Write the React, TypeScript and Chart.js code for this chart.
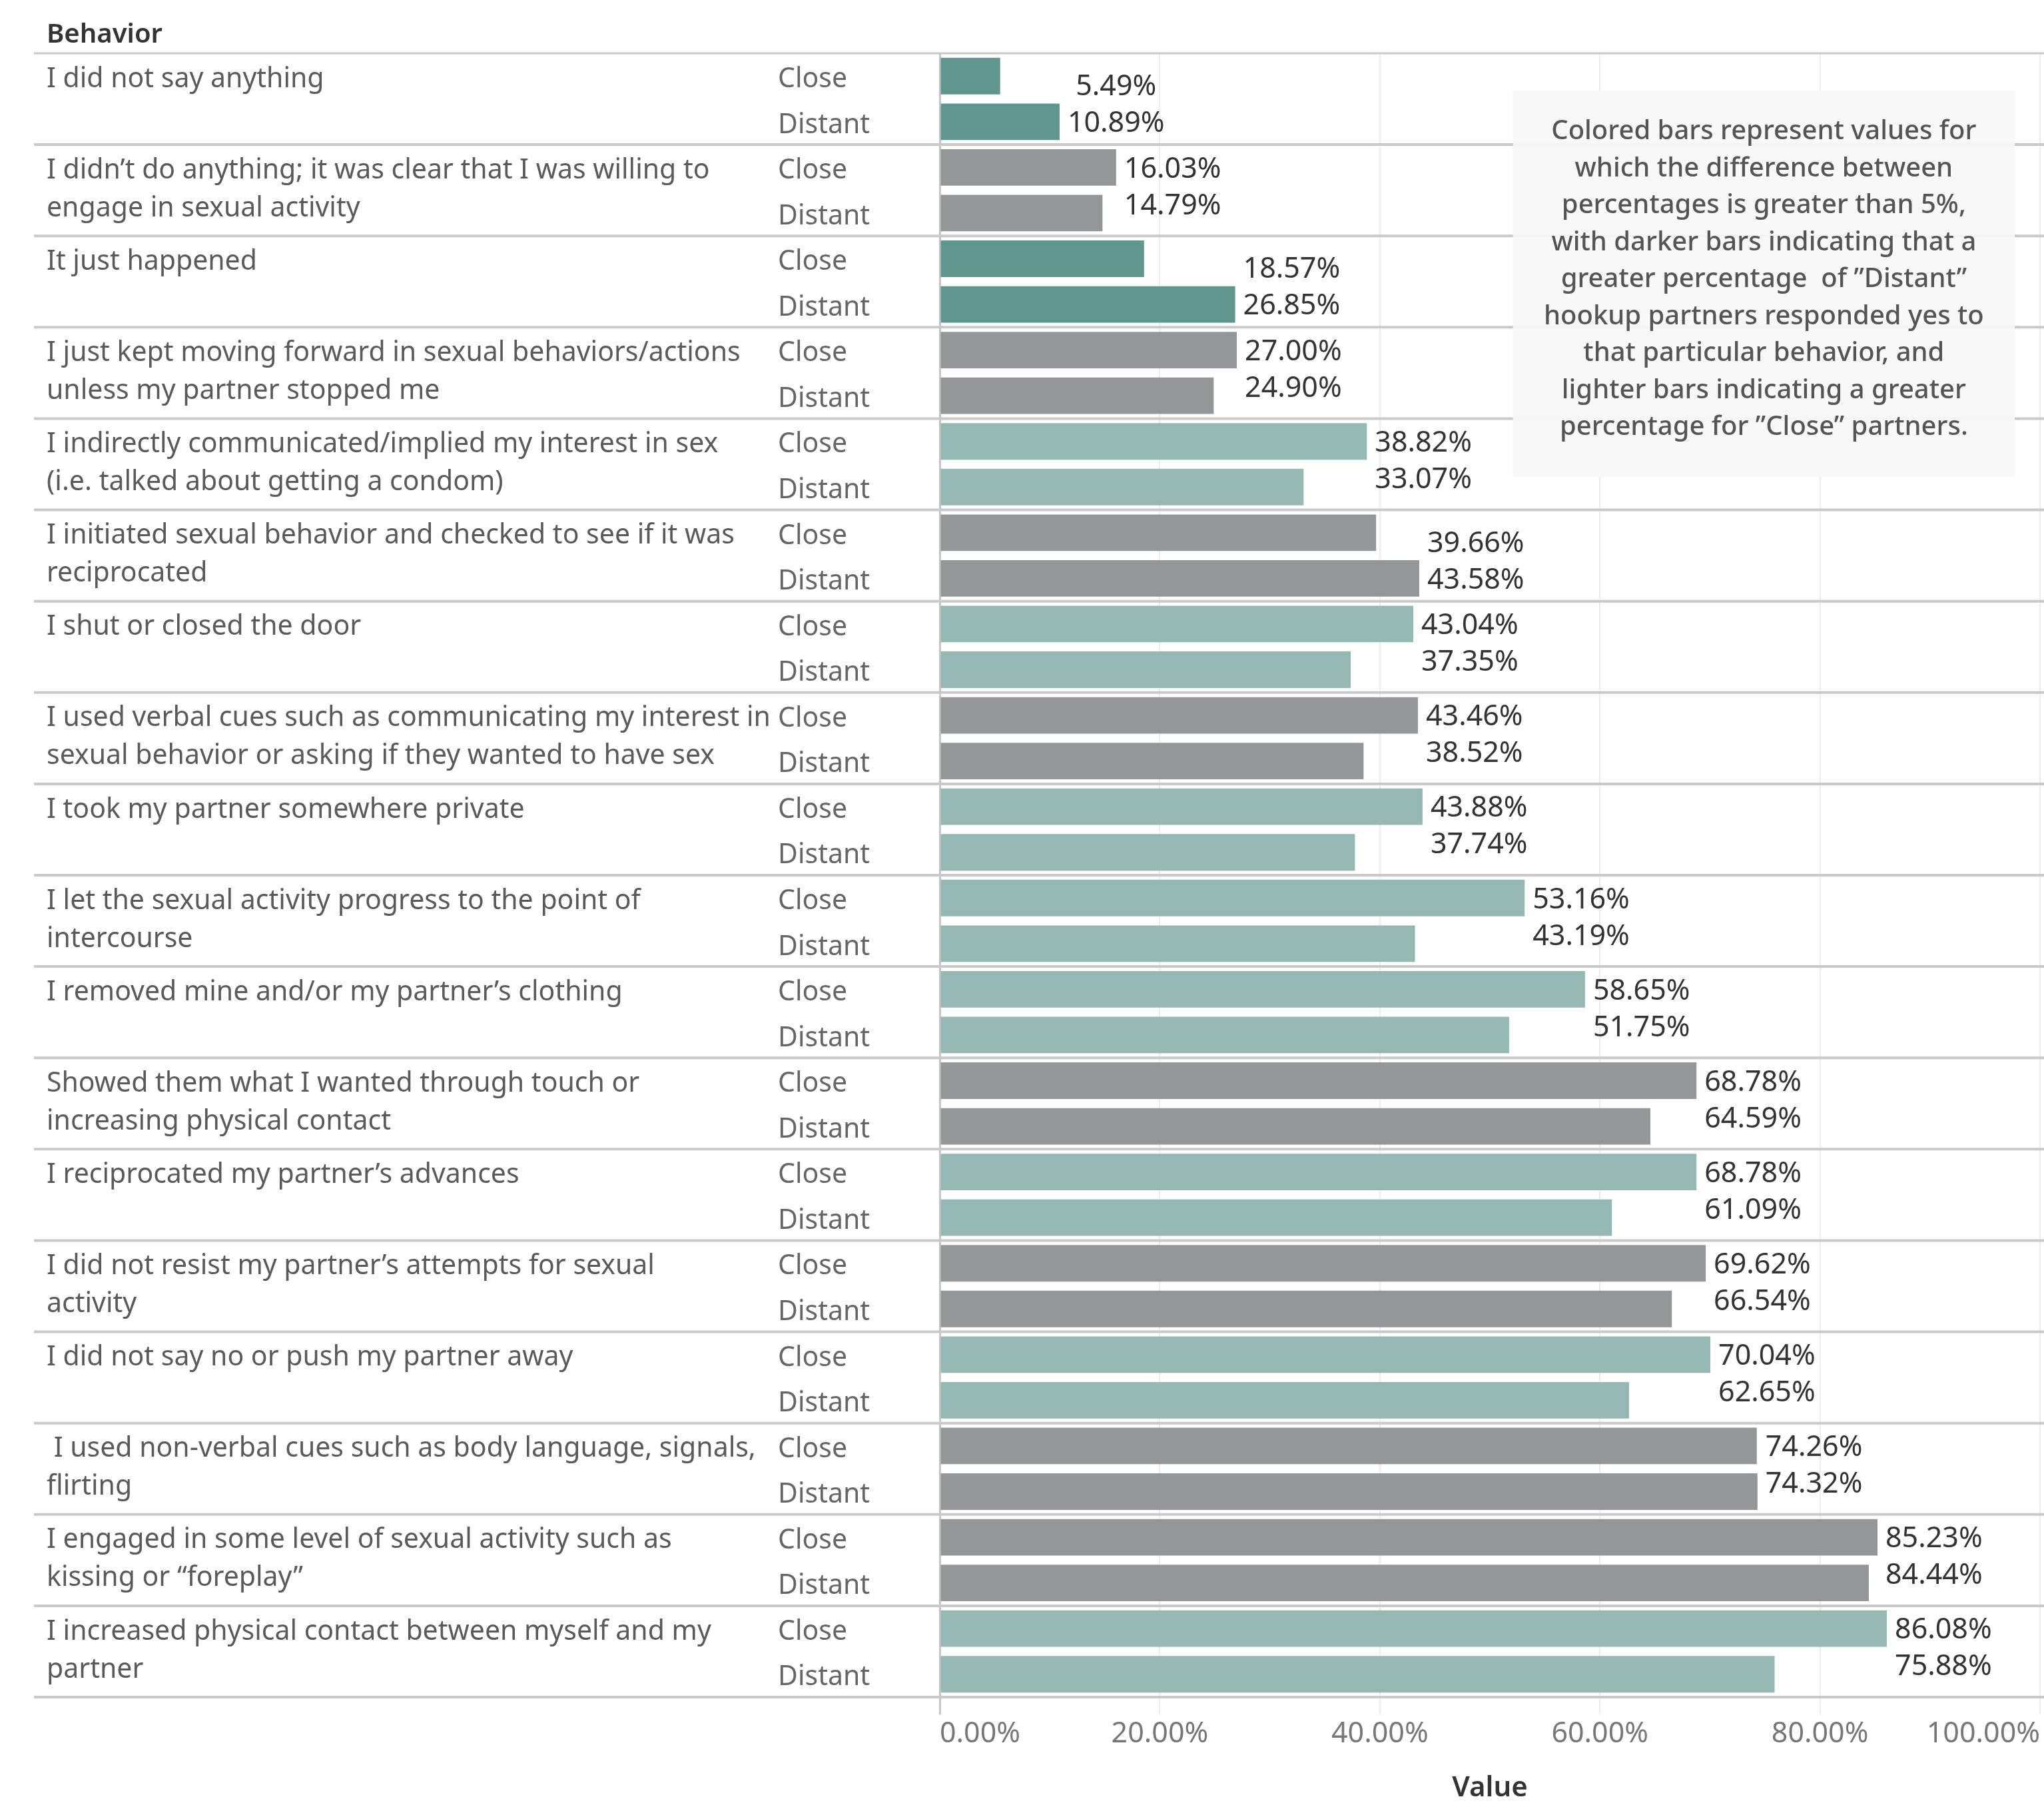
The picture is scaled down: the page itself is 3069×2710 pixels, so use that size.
import React, { useEffect, useRef } from "react";
import { Chart, registerables } from "chart.js";

Chart.register(...registerables);

// ---------------- data ----------------
const behaviorLabels: string[][] = [
  ["I did not say anything"],
  ["I didn\u2019t do anything; it was clear that I was willing to", "engage in sexual activity"],
  ["It just happened"],
  ["I just kept moving forward in sexual behaviors/actions", "unless my partner stopped me"],
  ["I indirectly communicated/implied my interest in sex", "(i.e. talked about getting a condom)"],
  ["I initiated sexual behavior and checked to see if it was", "reciprocated"],
  ["I shut or closed the door"],
  ["I used verbal cues such as communicating my interest in", "sexual behavior or asking if they wanted to have sex"],
  ["I took my partner somewhere private"],
  ["I let the sexual activity progress to the point of", "intercourse"],
  ["I removed mine and/or my partner\u2019s clothing"],
  ["Showed them what I wanted through touch or", "increasing physical contact"],
  ["I reciprocated my partner\u2019s advances"],
  ["I did not resist my partner\u2019s attempts for sexual", "activity"],
  ["I did not say no or push my partner away"],
  [" I used non-verbal cues such as body language, signals,", "flirting"],
  ["I engaged in some level of sexual activity such as", "kissing or \u201cforeplay\u201d"],
  ["I increased physical contact between myself and my", "partner"],
];

const closeValues: number[] = [
  5.49, 16.03, 18.57, 27.0, 38.82, 39.66, 43.04, 43.46, 43.88, 53.16, 58.65, 68.78, 68.78, 69.62, 70.04, 74.26,
  85.23, 86.08,
];

const distantValues: number[] = [
  10.89, 14.79, 26.85, 24.9, 33.07, 43.58, 37.35, 38.52, 37.74, 43.19, 51.75, 64.59, 61.09, 66.54, 62.65, 74.32,
  84.44, 75.88,
];

const partnerTypes: string[] = ["Close", "Distant"];
const xTickValues: number[] = [0, 20, 40, 60, 80, 100];
const headerText = "Behavior";
const axisTitleText = "Value";
const noteLines: string[] = [
  "Colored bars represent values for",
  "which the difference between",
  "percentages is greater than 5%,",
  "with darker bars indicating that a",
  "greater percentage  of \u201dDistant\u201d",
  "hookup partners responded yes to",
  "that particular behavior, and",
  "lighter bars indicating a greater",
  "percentage for \u201dClose\u201d partners.",
];

// ---------------- styles ----------------
const W = 3069;
const H = 2710;
const FONT = "'Noto Sans', 'Open Sans', sans-serif";
const DARK_TEAL = "#5f968f";
const LIGHT_TEAL = "#95b9b2";
const GRAY = "#939798";
const SEP = "#c9c9c9";

function colorFor(c: number, d: number): string {
  if (d - c > 5) return DARK_TEAL;
  if (c - d > 5) return LIGHT_TEAL;
  return GRAY;
}

const fmt = (v: number) => v.toFixed(2) + "%";

const decorPlugin = {
  id: "decor",
  afterDatasetsDraw(chart: any) {
    const { ctx, chartArea } = chart;
    const n = behaviorLabels.length;
    const blockH = (chartArea.bottom - chartArea.top) / n;
    ctx.save();
    ctx.strokeStyle = SEP;
    for (let i = 0; i <= n; i++) {
      const yy = chartArea.top + i * blockH;
      ctx.lineWidth = i === 0 ? 3 : 4;
      ctx.beginPath();
      ctx.moveTo(51, yy);
      ctx.lineTo(W, yy);
      ctx.stroke();
    }
    ctx.restore();
  },
  afterDraw(chart: any) {
    const { ctx, chartArea } = chart;
    const xs = chart.scales.x;
    const ys = chart.scales.y;
    const n = behaviorLabels.length;
    const blockH = (chartArea.bottom - chartArea.top) / n;
    ctx.save();

    // note box
    const bx0 = xs.getPixelForValue(52.1);
    const bx1 = xs.getPixelForValue(97.7);
    const by0 = chartArea.top + 56;
    const by1 = chartArea.top + 636;
    ctx.fillStyle = "rgba(247,247,247,0.93)";
    ctx.fillRect(bx0, by0, bx1 - bx0, by1 - by0);
    ctx.fillStyle = "#555555";
    ctx.font = `500 40px ${FONT}`;
    ctx.textAlign = "center";
    ctx.textBaseline = "middle";
    const cx = (bx0 + bx1) / 2;
    noteLines.forEach((line, i) => {
      ctx.fillText(line, cx, by0 + 62 + i * 55.5);
    });

    // header
    ctx.textAlign = "left";
    ctx.fillStyle = "#333333";
    ctx.font = `600 40px ${FONT}`;
    ctx.fillText(headerText, 70, 53);

    // behavior labels
    ctx.font = `41px ${FONT}`;
    ctx.fillStyle = "#5a5a5a";
    behaviorLabels.forEach((lines, i) => {
      const top = chartArea.top + i * blockH;
      lines.forEach((line, j) => {
        ctx.fillText(line, 70, top + 39 + j * 57);
      });
    });

    // Close / Distant labels
    ctx.font = `41px ${FONT}`;
    ctx.fillStyle = "#666666";
    for (let i = 0; i < n; i++) {
      partnerTypes.forEach((p, j) => {
        ctx.fillText(p, 1168, ys.getPixelForValue(i * 2 + j) + 5);
      });
    }

    // value labels
    ctx.fillStyle = "#333333";
    ctx.font = `43px ${FONT}`;
    ctx.textAlign = "center";
    for (let i = 0; i < n; i++) {
      const c = closeValues[i];
      const d = distantValues[i];
      const pc = xs.getPixelForValue(c);
      const pd = xs.getPixelForValue(d);
      const tc = fmt(c);
      const td = fmt(d);
      const w = Math.max(ctx.measureText(tc).width, ctx.measureText(td).width);
      const x0 = Math.max(pc, pd) + 12 + w / 2;
      let yc: number;
      let yd: number;
      if (d - c > 0.5) {
        yd = ys.getPixelForValue(i * 2 + 1) + 3;
        yc = yd - 55;
      } else {
        yc = ys.getPixelForValue(i * 2) + 3;
        yd = yc + 55;
      }
      ctx.fillText(tc, x0, yc);
      ctx.fillText(td, x0, yd);
    }
    ctx.restore();
  },
};

export default function App() {
  const ref = useRef<HTMLCanvasElement>(null);
  useEffect(() => {
    const canvas = ref.current;
    if (!canvas) return;
    const labels: string[] = [];
    const values: number[] = [];
    const colors: string[] = [];
    behaviorLabels.forEach((_, i) => {
      const col = colorFor(closeValues[i], distantValues[i]);
      labels.push(partnerTypes[0], partnerTypes[1]);
      values.push(closeValues[i], distantValues[i]);
      colors.push(col, col);
    });
    const chart = new Chart(canvas, {
      type: "bar",
      data: {
        labels,
        datasets: [
          {
            data: values,
            backgroundColor: colors,
            borderWidth: 0,
            barPercentage: 0.8,
            categoryPercentage: 1,
          },
        ],
      },
      options: {
        indexAxis: "y",
        responsive: false,
        animation: false,
        devicePixelRatio: 1,
        layout: { padding: { left: 1411, top: 80, right: 6, bottom: 0 } },
        plugins: { legend: { display: false }, tooltip: { enabled: false } },
        scales: {
          y: { display: false },
          x: {
            min: 0,
            max: 100,
            afterBuildTicks: (scale: any) => {
              scale.ticks = xTickValues.map((v) => ({ value: v }));
            },
            border: { display: false },
            grid: {
              color: (c: any) => (c.tick && c.tick.value === 0 ? "#c6c6c6" : "#ececec"),
              lineWidth: (c: any) => (c.tick && c.tick.value === 0 ? 3 : 2),
              tickLength: 26,
            },
            ticks: {
              align: "inner",
              padding: 4,
              color: "#777777",
              font: { family: FONT, size: 43 },
              callback: (v: any) => Number(v).toFixed(2) + "%",
            },
            title: {
              display: true,
              text: axisTitleText,
              color: "#333333",
              font: { family: FONT, size: 42, weight: "600" },
              padding: { top: 26, bottom: 0 },
            },
          },
        },
      },
      plugins: [decorPlugin],
    } as any);
    return () => chart.destroy();
  }, []);
  return (
    <div style={{ position: "absolute", left: 0, top: 0, width: W, height: H, background: "#ffffff", overflow: "hidden" }}>
      <canvas ref={ref} width={W} height={H} style={{ width: W, height: H, display: "block" }} />
    </div>
  );
}
